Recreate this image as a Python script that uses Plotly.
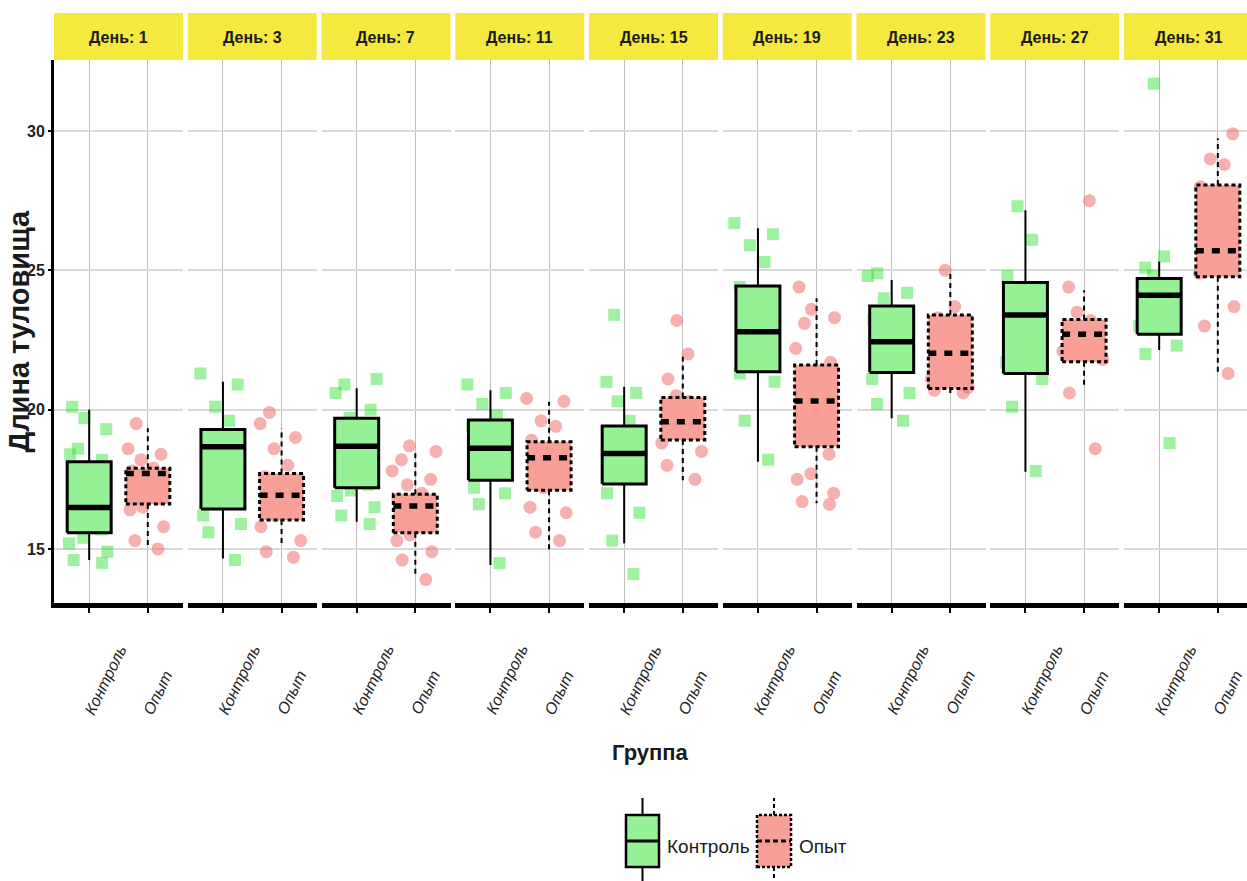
import plotly.graph_objects as go

# ---------------------------------------------------------------- data
days = [1, 3, 7, 11, 15, 19, 23, 27, 31]
groups = ["Контроль", "Опыт"]
facet_labels = [f"День: {d}" for d in days]
y_ticks = [15, 20, 25, 30]

# box statistics per day: whisker ends, quartiles and median
ctrl_low = [14.60, 14.66, 15.98, 14.42, 15.20, 18.13, 19.69, 17.77, 22.14]
ctrl_q1 = [15.58, 16.43, 17.20, 17.47, 17.33, 21.36, 21.33, 21.30, 22.71]
ctrl_med = [16.49, 18.67, 18.69, 18.61, 18.43, 22.80, 22.44, 23.40, 24.11]
ctrl_q3 = [18.13, 19.29, 19.69, 19.63, 19.41, 24.44, 23.72, 24.56, 24.71]
ctrl_high = [20.00, 21.00, 20.77, 20.70, 20.82, 26.51, 24.65, 27.16, 25.31]

exp_low = [15.14, 15.14, 14.00, 14.96, 17.47, 16.64, 20.60, 20.76, 21.24]
exp_q1 = [16.61, 16.04, 15.58, 17.11, 18.91, 18.67, 20.76, 21.72, 24.77]
exp_med = [17.71, 16.93, 16.54, 18.27, 19.57, 20.31, 22.02, 22.71, 25.70]
exp_q3 = [17.90, 17.71, 16.96, 18.85, 20.44, 21.60, 23.40, 23.24, 28.06]
exp_high = [19.33, 19.33, 18.58, 20.28, 21.90, 24.00, 25.01, 24.29, 29.74]

# individual measurements (trunk length) per day
ctrl_points = [
    [20.1, 19.7, 19.3, 18.6, 18.4, 18.2, 17.6, 17.3, 16.9, 16.6, 16.4, 16.0, 15.7, 15.4, 15.2, 14.9, 14.6, 14.5],
    [21.3, 20.9, 20.1, 19.6, 19.0, 18.7, 18.2, 17.8, 17.2, 16.6, 16.2, 15.9, 15.6, 14.6],
    [21.1, 20.9, 20.6, 20.0, 19.7, 19.4, 18.8, 18.5, 18.2, 17.7, 17.3, 17.1, 16.9, 16.5, 16.2, 15.9],
    [20.9, 20.6, 20.2, 19.8, 19.4, 19.0, 18.7, 18.4, 18.0, 17.8, 17.2, 17.0, 16.6, 14.5],
    [23.4, 21.0, 20.6, 20.3, 19.6, 19.2, 18.9, 18.6, 18.3, 18.0, 17.6, 17.0, 16.3, 15.3, 14.1],
    [26.7, 26.3, 25.9, 25.3, 24.4, 23.9, 23.2, 22.8, 22.4, 21.9, 21.3, 21.0, 19.6, 18.2],
    [24.9, 24.8, 24.2, 24.0, 23.5, 23.2, 22.8, 22.4, 22.0, 21.8, 21.5, 21.1, 20.6, 20.2, 19.6],
    [27.3, 26.1, 24.8, 24.4, 24.2, 23.6, 23.2, 22.4, 21.7, 21.1, 20.1, 17.8],
    [31.7, 25.5, 25.1, 24.8, 24.5, 24.2, 24.0, 23.7, 23.0, 22.3, 22.0, 18.8],
]
exp_points = [
    [19.5, 18.6, 18.4, 18.2, 17.9, 17.8, 17.5, 17.3, 17.0, 16.8, 16.5, 16.4, 15.8, 15.3, 15.0],
    [19.9, 19.5, 19.0, 18.6, 18.0, 17.6, 17.4, 17.0, 16.8, 16.6, 16.2, 15.8, 15.3, 14.9, 14.7],
    [18.7, 18.5, 18.2, 17.8, 17.5, 17.3, 17.0, 16.8, 16.5, 16.3, 16.1, 15.8, 15.5, 15.3, 14.9, 14.6, 13.9],
    [20.4, 20.3, 19.6, 19.4, 18.9, 18.5, 18.2, 18.0, 17.8, 17.2, 16.5, 16.3, 15.6, 15.3],
    [23.2, 22.0, 21.1, 20.5, 20.3, 19.8, 19.6, 19.2, 18.8, 18.5, 18.0, 17.5],
    [24.4, 23.6, 23.3, 23.1, 22.2, 21.7, 21.1, 20.6, 20.3, 20.0, 19.8, 19.2, 18.4, 17.7, 17.5, 17.0, 16.7, 16.6],
    [25.0, 23.7, 23.3, 22.9, 22.5, 22.0, 21.8, 21.4, 21.1, 20.8, 20.7, 20.6],
    [27.5, 24.4, 23.5, 23.2, 22.9, 22.7, 22.4, 22.1, 21.8, 20.6, 18.6],
    [29.9, 29.0, 28.8, 28.0, 27.2, 26.8, 26.0, 25.7, 25.1, 24.9, 23.7, 23.0, 21.3],
]

# ---------------------------------------------------------------- styling
W, H = 1247, 881
PANEL_X0, PANEL_STEP, PANEL_W = 54, 133.75, 129
PLOT_TOP, PLOT_BOTTOM = 60, 603
STRIP_TOP, STRIP_BOTTOM = 13, 60
Y_RANGE = [13.06, 32.55]
X_SPAN = [0.4, 2.6]
HALF_BOX = 0.375

SANS = "Liberation Sans, Arial, sans-serif"
INK = "#1a1a1a"

style = {
    "Контроль": dict(fill="rgb(150,240,150)", point="rgba(40,225,40,0.45)",
                     symbol="square", size=12, dash_box="solid", dash_med="solid",
                     dash_wh="solid"),
    "Опыт": dict(fill="rgb(248,160,152)", point="rgba(240,95,95,0.5)",
                 symbol="circle", size=13, dash_box="4px,3px", dash_med="8px,8px",
                 dash_wh="5px,4px"),
}


def px_x(v):
    return v / W


def px_y(v):
    return 1 - v / H


fig = go.Figure()
shapes, annotations = [], []

for i, day in enumerate(days):
    n = i + 1
    sfx = "" if n == 1 else str(n)
    xa, ya = f"x{sfx}", f"y{sfx}"
    left = PANEL_X0 + i * PANEL_STEP
    right = min(left + PANEL_W, W)
    x_hi = X_SPAN[0] + (right - left) / PANEL_W * (X_SPAN[1] - X_SPAN[0])

    fig.layout[f"xaxis{sfx}"] = dict(
        domain=[px_x(left), px_x(right)], range=[X_SPAN[0], x_hi], anchor=ya,
        tickvals=[1, 2], showticklabels=False, ticks="outside", ticklen=5,
        tickwidth=2, tickcolor="black", showline=True, linecolor="black",
        linewidth=5, showgrid=True, gridcolor="#bdbdbd", gridwidth=1,
        zeroline=False, fixedrange=True,
    )
    fig.layout[f"yaxis{sfx}"] = dict(
        domain=[px_y(PLOT_BOTTOM), px_y(PLOT_TOP)], range=Y_RANGE, anchor=xa,
        tickvals=y_ticks, showgrid=True, gridcolor="#d9d9d9", gridwidth=2,
        zeroline=False, showticklabels=(n == 1), showline=(n == 1),
        linecolor="black", linewidth=3, ticks="outside" if n == 1 else "",
        ticklen=3, tickwidth=2, tickcolor="black",
        tickfont=dict(family=SANS, size=16, color="#222", weight="bold"),
        fixedrange=True,
    )

    stats = {
        "Контроль": (ctrl_low[i], ctrl_q1[i], ctrl_med[i], ctrl_q3[i], ctrl_high[i], ctrl_points[i]),
        "Опыт": (exp_low[i], exp_q1[i], exp_med[i], exp_q3[i], exp_high[i], exp_points[i]),
    }

    # box bodies (fill only)
    for j, g in enumerate(groups):
        c = j + 1
        lo, q1, med, q3, hi, pts = stats[g]
        fig.add_trace(go.Scatter(
            x=[c - HALF_BOX, c + HALF_BOX, c + HALF_BOX, c - HALF_BOX, c - HALF_BOX],
            y=[q1, q1, q3, q3, q1], mode="lines", fill="toself",
            fillcolor=style[g]["fill"], line=dict(width=0),
            xaxis=xa, yaxis=ya, showlegend=False, hoverinfo="skip"))

    # jittered measurements
    for j, g in enumerate(groups):
        c = j + 1
        pts = stats[g][5]
        fig.add_trace(go.Box(
            x=[c] * len(pts), y=pts, boxpoints="all", jitter=1, pointpos=0,
            width=0.85, fillcolor="rgba(0,0,0,0)",
            line=dict(width=0, color="rgba(0,0,0,0)"), whiskerwidth=0,
            marker=dict(symbol=style[g]["symbol"], size=style[g]["size"],
                        color=style[g]["point"], line=dict(width=0)),
            xaxis=xa, yaxis=ya, showlegend=False, name=g, hoveron="points"))

    # box outlines, medians and whiskers
    for j, g in enumerate(groups):
        c = j + 1
        lo, q1, med, q3, hi, pts = stats[g]
        st = style[g]
        fig.add_trace(go.Scatter(
            x=[c, c, None, c, c], y=[q3, hi, None, q1, lo], mode="lines",
            line=dict(color="black", width=2, dash=st["dash_wh"]),
            xaxis=xa, yaxis=ya, showlegend=False, hoverinfo="skip"))
        fig.add_trace(go.Scatter(
            x=[c - HALF_BOX, c + HALF_BOX, c + HALF_BOX, c - HALF_BOX, c - HALF_BOX],
            y=[q1, q1, q3, q3, q1], mode="lines",
            line=dict(color="black", width=3, dash=st["dash_box"]),
            xaxis=xa, yaxis=ya, showlegend=False, hoverinfo="skip"))
        fig.add_trace(go.Scatter(
            x=[c - HALF_BOX, c + HALF_BOX], y=[med, med], mode="lines",
            line=dict(color="black", width=5.5, dash=st["dash_med"]),
            xaxis=xa, yaxis=ya, showlegend=False, hoverinfo="skip"))

    # facet strip
    shapes.append(dict(type="rect", xref=f"{xa} domain", yref="paper",
                       x0=0, x1=1, y0=px_y(STRIP_BOTTOM), y1=px_y(STRIP_TOP),
                       fillcolor="#F5E93F", line=dict(width=0), layer="below"))
    annotations.append(dict(text=f"<b>{facet_labels[i]}</b>", xref=xa, yref="paper",
                            x=sum(X_SPAN) / 2, y=px_y((STRIP_TOP + STRIP_BOTTOM) / 2 + 1),
                            showarrow=False, xanchor="center", yanchor="middle",
                            font=dict(family=SANS, size=16, color=INK)))

    # rotated group labels under each facet
    for j, g in enumerate(groups):
        annotations.append(dict(text=f"<i>{g}</i>", xref=xa, yref="paper", x=j + 1,
                                y=px_y(720), xanchor="left", yanchor="bottom",
                                xshift=-10, textangle=-64, showarrow=False,
                                font=dict(family=SANS, size=16, color="#222")))

# axis titles
annotations.append(dict(text="<b>Длина туловища</b>", xref="paper", yref="paper",
                        x=px_x(18), y=px_y((PLOT_TOP + PLOT_BOTTOM) / 2), textangle=-90,
                        showarrow=False, xanchor="center", yanchor="middle",
                        font=dict(family=SANS, size=29, color=INK)))
annotations.append(dict(text="<b>Группа</b>", xref="paper", yref="paper",
                        x=px_x(650), y=px_y(752), showarrow=False,
                        xanchor="center", yanchor="middle",
                        font=dict(family=SANS, size=22, color=INK)))


# legend keys
def legend_key(x0, x1, g):
    st = style[g]
    xm = (x0 + x1) / 2
    y_box0, y_box1, y_med = 815, 867, 841
    dashed = g == "Опыт"
    return [
        dict(type="rect", xref="paper", yref="paper", x0=px_x(x0), x1=px_x(x1),
             y0=px_y(y_box1), y1=px_y(y_box0), fillcolor=st["fill"],
             line=dict(color="black", width=2.5, dash="3px,2px" if dashed else "solid")),
        dict(type="line", xref="paper", yref="paper", x0=px_x(x0), x1=px_x(x1),
             y0=px_y(y_med), y1=px_y(y_med),
             line=dict(color="black", width=3, dash="5px,3px" if dashed else "solid")),
        dict(type="line", xref="paper", yref="paper", x0=px_x(xm), x1=px_x(xm),
             y0=px_y(y_box0), y1=px_y(798),
             line=dict(color="black", width=2, dash="4px,3px" if dashed else "solid")),
        dict(type="line", xref="paper", yref="paper", x0=px_x(xm), x1=px_x(xm),
             y0=px_y(y_box1), y1=px_y(881),
             line=dict(color="black", width=2, dash="4px,3px" if dashed else "solid")),
    ]


shapes += legend_key(626, 659, "Контроль")
shapes += legend_key(757, 791, "Опыт")
for label, x_left in (("Контроль", 665), ("Опыт", 797)):
    annotations.append(dict(text=label, xref="paper", yref="paper", x=px_x(x_left),
                            y=px_y(846), xanchor="left", yanchor="middle", showarrow=False,
                            font=dict(family=SANS, size=19, color=INK)))

fig.update_layout(
    width=W, height=H, margin=dict(l=0, r=0, t=0, b=0),
    paper_bgcolor="white", plot_bgcolor="white", boxmode="overlay",
    shapes=shapes, annotations=annotations, showlegend=False,
)

fig.write_html("out.html")
